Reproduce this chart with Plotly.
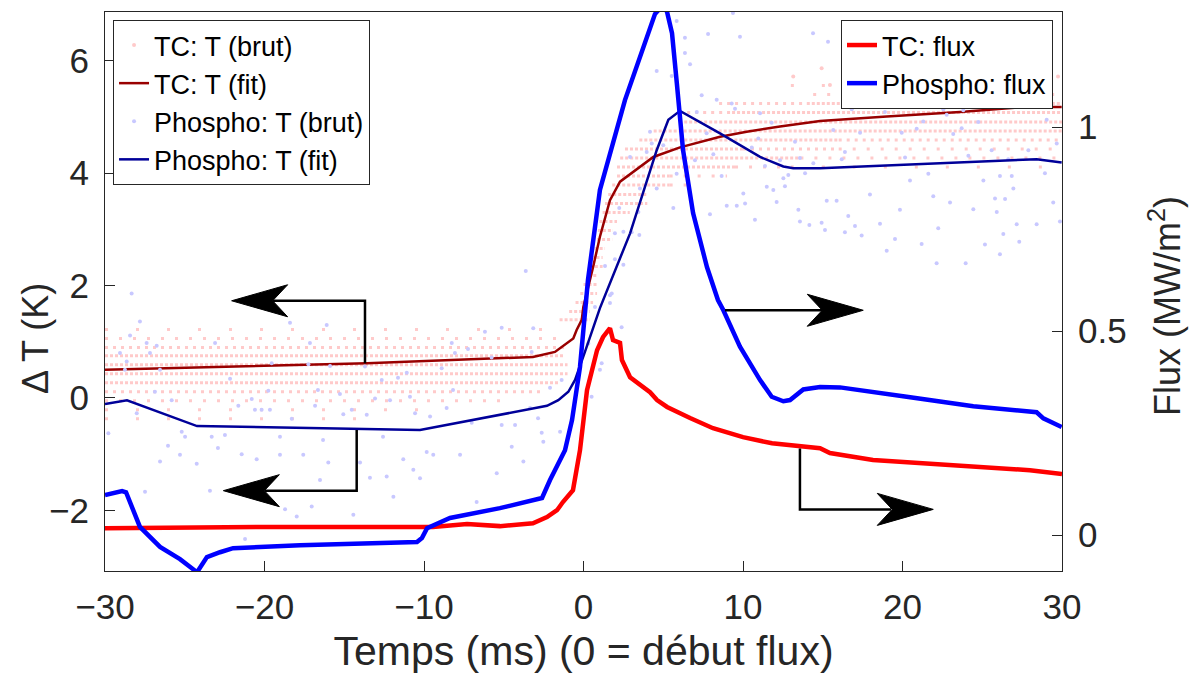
import plotly.graph_objects as go

# ---------------- data ----------------
# Thermocouple heat flux (MW/m2) vs time (ms)
TC_FLUX_T = [-30.0, -19.84, -9.44, -7.30, -5.24, -3.17, -2.29, -1.66, -1.29, -0.66,
             -0.22, 0.22, 0.85, 1.22, 1.66, 1.85, 2.29, 2.41, 2.92, 3.54, 4.17, 4.61,
             5.24, 6.68, 8.12, 10.0, 11.82, 14.83, 15.45, 18.15, 27.55, 27.99, 30.0]
TC_FLUX = [0.017, 0.020, 0.020, 0.027, 0.022, 0.029, 0.044, 0.061, 0.081, 0.110,
           0.208, 0.355, 0.453, 0.485, 0.507, 0.478, 0.471, 0.429, 0.387, 0.368, 0.350, 0.331,
           0.314, 0.287, 0.262, 0.240, 0.225, 0.213, 0.201, 0.184, 0.162, 0.159, 0.150]

# Phosphor heat flux (MW/m2)
PH_FLUX_T = [-30.0, -28.93, -28.68, -28.56, -27.81, -26.55, -25.30, -24.23, -23.61, -22.79,
             -21.97, -17.77, -10.44, -10.13, -9.81, -8.37, -5.24, -2.60, -2.10, -1.16,
             -0.72, -0.22, 0.28, 1.03, 2.60, 4.48, 5.0, 5.24, 5.55, 5.85, 6.24, 6.87,
             7.74, 8.43, 8.77, 9.81, 11.07, 11.80, 12.53, 12.95, 13.78, 14.83, 16.08,
             20.26, 24.44, 28.41, 28.83, 29.98]
PH_FLUX = [0.098, 0.108, 0.105, 0.093, 0.020, -0.029, -0.059, -0.091, -0.054, -0.042,
           -0.032, -0.025, -0.017, -0.007, 0.017, 0.042, 0.066, 0.091, 0.135, 0.208,
           0.282, 0.412, 0.625, 0.846, 1.066, 1.277, 1.300, 1.282, 1.230, 1.108, 0.944, 0.789,
           0.657, 0.576, 0.551, 0.462, 0.380, 0.339, 0.328, 0.331, 0.357, 0.363, 0.362,
           0.339, 0.316, 0.301, 0.286, 0.265]

# Thermocouple temperature fit (K)
TC_FIT_T = [-30.0, -13.57, -3.17, -1.79, -0.64, -0.43, -0.11, -0.01, 0.61, 1.03, 1.66,
            2.29, 4.38, 6.05, 8.56, 10.23, 12.32, 14.83, 19.01, 23.61, 27.79, 29.98]
TC_FIT = [0.50, 0.62, 0.73, 0.82, 1.06, 1.21, 1.39, 1.62, 2.34, 2.87, 3.52,
          3.85, 4.29, 4.46, 4.65, 4.74, 4.83, 4.93, 5.01, 5.09, 5.18, 5.18]

# Phosphor temperature fit (K)
PH_FIT_T = [-30.0, -28.62, -24.23, -10.25, -2.29, -1.58, -0.95, -0.53, 0.09, 1.03, 2.92,
            4.59, 5.32, 6.05, 8.56, 11.07, 12.53, 13.15, 14.83, 21.10, 26.53, 28.41, 29.98]
PH_FIT = [-0.11, -0.04, -0.50, -0.57, -0.14, -0.04, 0.11, 0.32, 0.82, 1.60, 2.93,
          4.41, 4.95, 5.11, 4.71, 4.29, 4.12, 4.09, 4.09, 4.16, 4.22, 4.25, 4.19]

# Phosphor raw temperature samples (K)
PH_RAW_T = [-27.81, -28.43, -27.39, -26.76, -29.06, -27.18, -28.64, -28.75, -26.55, -18.40,
            -16.10, -17.15, -23.10, -19.55, -17.25, -15.89, -13.70, -22.16, -19.76, -26.87,
            -25.82, -20.80, -16.65, -15.27, -13.07, -12.13, -10.88, -12.65, -11.63, -11.08,
            -8.18, -8.89, -8.26, -8.06, -7.24, -5.13, -6.18, -5.76, -3.25, -2.10,
            -1.37, -2.85, -4.29, -4.50, -2.62, -7.01, -8.58, -9.62, -10.56, -13.59,
            -14.53, -15.06, -18.29, -16.83, -20.60, -20.18, -19.66, -21.64, -28.01, -29.79,
            -25.19, -24.98, -23.31, -22.48, -19.03, -16.33, -12.57, -26.05, -22.92, -28.33,
            -25.30, -26.55, -24.25, -21.43, -20.49, -19.03, -17.57, -16.00, -14.01, -16.52,
            -17.98, -18.71, -17.04, -14.43, -13.39, -12.34, -11.92, -10.67, -10.25, -11.30,
            -9.83, -9.42, -7.74, -6.70, -5.44, -3.77, -2.52, -1.47, -5.13, -3.35,
            -21.22, -23.42, -27.49, -3.62, -3.15, 0.72, 1.77, 1.66, 2.39, 1.14,
            1.03, 0.51, 0.30, 6.68, 4.59, 5.53, 7.41, 8.35, 9.29, 9.50,
            7.10, 7.72, 11.07, 11.80, 10.96, 13.26, 5.00, 4.28, 4.17, 2.92,
            6.99, 8.14, 3.96, 5.84, 8.66, 4.59, 3.54, 2.24, 3.44, 2.50,
            3.02, 3.50, 1.97, 1.97, 2.50, 1.35, 1.66, 5.63, 7.93, 8.98,
            9.61, 10.13, 10.02, 10.55, 10.75, 11.38, 12.32, 12.53, 11.49, 11.90,
            12.63, 12.84, 13.57, 13.89, 14.41, 13.47, 13.57, 14.16, 12.11, 18.38,
            16.82, 18.90, 21.93, 22.56, 22.77, 23.81, 28.62, 29.04, 21.30, 24.75,
            15.66, 17.34, 19.95, 20.89, 23.18, 23.71, 16.39, 16.19, 20.16, 24.13,
            25.59, 26.63, 27.89, 29.67, 21.62, 20.47, 17.96, 25.07, 26.11, 26.85,
            26.95, 28.93, 15.25, 15.87, 19.84, 21.93, 22.98, 24.44, 25.80, 26.43,
            25.91, 29.45, 16.60, 14.93, 17.02, 18.59, 15.14, 16.39, 17.44, 19.53,
            22.24, 27.16, 28.41, 29.87, 26.32, 21.20, 19.01, 25.17, 27.32, 26.11,
            22.14, 23.96, 14.39, 15.33, 5.84, 7.81, 9.81, 9.37, 6.36, 6.36]
PH_RAW = [1.36, 1.11, 0.98, 0.93, 0.80, 0.80, 0.65, 0.50, 0.50, 1.34,
          1.30, 0.98, 0.98, 0.62, 0.60, 0.57, 0.56, 0.34, 0.13, 0.11,
          -0.04, -0.02, 0.14, 0.07, -0.01, -0.04, 0.02, 0.32, 0.36, 0.45,
          0.14, 0.53, 0.98, 0.80, 0.87, 1.25, 1.18, 0.72, 0.82, 0.18,
          0.32, -0.36, -0.48, -0.87, -0.62, -0.44, -0.18, -0.33, -0.27, -0.30,
          -0.21, -0.29, -0.37, -0.14, -0.21, -0.21, -0.21, -0.14, -0.27, -0.63,
          -0.60, -0.69, -0.69, -0.66, -0.69, -0.75, -0.69, -0.85, -0.89, 1.86,
          -1.01, -1.13, -1.17, -1.00, -1.09, -1.01, -1.01, -1.15, -1.15, -1.46,
          -2.11, -1.98, -1.93, -2.08, -1.42, -1.40, -1.76, -1.28, -1.43, -1.09,
          -0.96, -1.01, -1.01, -1.85, -1.34, -1.13, -0.78, -0.60, -0.48, -0.18,
          -2.51, -1.65, -1.67, 2.26, 1.24, 1.62, 1.86, 1.69, 1.26, 0.62,
          0.50, 0.02, 0.97, 5.94, 5.82, 5.73, 5.39, 5.31, 5.24, 5.15,
          5.09, 4.71, 5.07, 4.90, 4.62, 4.56, 4.50, 4.53, 4.74, 4.29,
          4.23, 4.34, 4.38, 3.99, 3.95, 3.73, 3.73, 3.38, 3.31, 2.96,
          2.95, 2.90, 2.93, 2.47, 2.37, 2.35, 1.83, 3.38, 3.27, 3.42,
          3.42, 3.46, 3.64, 4.46, 3.17, 4.13, 4.23, 3.91, 3.76, 3.70,
          3.77, 3.97, 4.27, 4.00, 4.18, 3.35, 3.14, 3.08, 3.49, 5.27,
          5.14, 5.09, 5.24, 5.14, 5.04, 5.12, 5.23, 4.95, 4.92, 4.91,
          4.77, 4.72, 4.72, 4.79, 4.70, 4.80, 4.38, 4.25, 4.28, 4.31,
          4.41, 4.25, 4.41, 4.53, 3.99, 3.87, 3.62, 3.87, 3.95, 3.95,
          3.73, 4.00, 3.51, 3.51, 3.35, 3.59, 3.48, 3.36, 3.55, 3.54,
          3.31, 3.48, 3.24, 3.12, 3.06, 3.10, 2.99, 2.95, 2.89, 2.83,
          3.02, 3.09, 3.09, 3.14, 2.92, 2.74, 2.62, 2.73, 2.78, 2.56,
          2.40, 2.40, 6.49, 6.34, 6.71, 6.48, 6.43, 6.85, 6.41, 6.14]

# Thermocouple raw samples: quantised levels (K), drawn as rows of samples
# level, start time, end time, sample density class
TC_RAW_LEVEL = [1.22, 1.06, 0.90, 0.75, 0.59, 0.43, 0.27, 0.11, -0.05, -0.21, -0.37,
                1.39, 1.54, 1.70, 1.86, 2.02, 2.18, 2.34, 2.50, 2.66, 2.82, 2.98, 3.14,
                3.30, 3.46, 3.62, 3.79, 3.79, 3.95, 3.95, 4.11, 4.11, 4.11, 4.27, 4.27,
                4.43, 4.43, 4.43, 4.59, 4.59, 4.75, 4.91, 5.08, 5.08, 5.24, 5.24, 5.40, 5.56]
TC_RAW_T0 = [-30, -30, -30, -30, -30, -30, -30, -30, -30, -30, -30,
             -1.5, -0.9, -0.5, -0.2, 0.0, 0.3, 0.4, 0.5, 0.7, 0.85, 0.9, 1.0,
             1.2, 1.35, 1.55, 1.8, 5.4, 2.1, 5.4, 2.1, 9.5, 13.0, 2.3, 13.6,
             2.6, 10.0, 16.0, 3.5, 16.0, 4.4, 6.0, 6.5, 9.0, 8.5, 14.0, 14.4, 13.0]
TC_RAW_T1 = [-1.0, -1.5, -1.2, -1.2, -1.0, -1.0, -1.5, -2.6, -4.9, -10.0, -14.0,
             0.4, 0.4, 0.6, 0.85, 0.85, 0.9, 1.2, 1.2, 1.35, 1.8, 1.85, 2.1,
             2.9, 4.0, 4.0, 5.4, 6.9, 5.4, 9.0, 9.5, 13.0, 30, 13.6, 30,
             10.0, 16.0, 30, 16.0, 30, 30, 30, 9.0, 30, 14.0, 30, 30, 30]
TC_RAW_DENSITY = ["x", "s", "m", "d", "d", "d", "d", "m", "s", "x", "x",
                  "d", "d", "d", "d", "d", "d", "d", "d", "d", "d", "d", "d",
                  "d", "d", "d", "d", "s", "d", "s", "d", "s", "x", "d", "s",
                  "d", "m", "s", "d", "m", "d", "d", "m", "d", "m", "d", "s", "x"]
# isolated thermocouple samples
TC_RAW_EXTRA_T = [13.15, 15.45, 29.75, 14.93]
TC_RAW_EXTRA = [5.72, 5.57, 5.72, 5.87]

X_TICKS = [-30, -20, -10, 0, 10, 20, 30]
X_TICK_LABELS = ["\u221230", "\u221220", "\u221210", "0", "10", "20", "30"]
Y_TICKS = [-2, 0, 2, 4, 6]
Y_TICK_LABELS = ["\u22122", "0", "2", "4", "6"]
Y2_TICKS = [0, 0.5, 1]
Y2_TICK_LABELS = ["0", "0.5", "1"]

# annotation arrows: elbow path points (time, value), tip, direction, axis
ARROW_PATHS = [
    ([-13.70, -13.70, -19.5], [0.62, 1.73, 1.73], (-22.06, 1.73), "left", "y"),
    ([-14.22, -14.22, -20.0], [-0.57, -1.65, -1.65], (-22.58, -1.65), "left", "y"),
    ([8.87, 15.0], [0.551, 0.551], (17.54, 0.551), "right", "y2"),
    ([13.57, 13.57, 19.3], [0.2125, 0.063, 0.063], (21.93, 0.063), "right", "y2"),
]

# ---------------- styling ----------------
FONT = "Liberation Sans, Arial, Helvetica, sans-serif"
AX = "#262626"
PINK = "#ffcaca"
LAVENDER = "#c8c8ff"
DASHES = {"d": "3px,2px", "m": "3px,5px", "s": "3px,11px", "x": "3px,28px"}
TICK_SIZE = 35
LABEL_SIZE = 41

fig = go.Figure()

# TC raw: legend entry
fig.add_trace(go.Scatter(x=[None], y=[None], mode="markers", name="TC: T (brut)",
                         marker=dict(color=PINK, size=4), legend="legend"))
for dens, dash in DASHES.items():
    xs, ys = [], []
    for lv, a, b, d in zip(TC_RAW_LEVEL, TC_RAW_T0, TC_RAW_T1, TC_RAW_DENSITY):
        if d == dens:
            xs += [a, b, None]
            ys += [lv, lv, None]
    fig.add_trace(go.Scatter(x=xs, y=ys, mode="lines", showlegend=False, hoverinfo="skip",
                             line=dict(color=PINK, width=3, dash=dash)))
fig.add_trace(go.Scatter(x=TC_RAW_EXTRA_T, y=TC_RAW_EXTRA, mode="markers", showlegend=False,
                         marker=dict(color=PINK, size=4)))

fig.add_trace(go.Scatter(x=TC_FIT_T, y=TC_FIT, mode="lines", name="TC: T (fit)",
                         line=dict(color="#990000", width=2.5), legend="legend"))
fig.add_trace(go.Scatter(x=PH_RAW_T, y=PH_RAW, mode="markers", name="Phospho: T (brut)",
                         marker=dict(color=LAVENDER, size=4), legend="legend"))
fig.add_trace(go.Scatter(x=PH_FIT_T, y=PH_FIT, mode="lines", name="Phospho: T (fit)",
                         line=dict(color="#000099", width=2.5), legend="legend"))

fig.add_trace(go.Scatter(x=TC_FLUX_T, y=TC_FLUX, mode="lines", name="TC: flux", yaxis="y2",
                         line=dict(color="#ff0000", width=4.5), legend="legend2"))
fig.add_trace(go.Scatter(x=PH_FLUX_T, y=PH_FLUX, mode="lines", name="Phospho: flux", yaxis="y2",
                         line=dict(color="#0000ff", width=4.5), legend="legend2"))

shapes = []
for xs, ys, tip, direction, ax in ARROW_PATHS:
    path = "M" + " L".join(f"{x},{y}" for x, y in zip(xs, ys))
    shapes.append(dict(type="path", path=path, xref="x", yref=ax, layer="above",
                       line=dict(color="black", width=2.5)))
    s = 1 if direction == "left" else -1
    head = f"M0,0 L{56*s},16 L{41*s},0 L{56*s},-16 Z"
    shapes.append(dict(type="path", path=head, xref="x", yref=ax, layer="above",
                       xsizemode="pixel", ysizemode="pixel", xanchor=tip[0], yanchor=tip[1],
                       fillcolor="black", line=dict(color="black", width=1)))

# y-axis titles as rotated annotations (placed where the reference has them)
annotations = [
    dict(text="Δ T (K)", xref="paper", yref="paper", x=-0.0731, y=0.415,
         xanchor="center", yanchor="middle", textangle=-90, showarrow=False,
         font=dict(size=36, family=FONT, color=AX)),
    dict(text="Flux (MW/m<sup>2</sup>)", xref="paper", yref="paper", x=1.1076, y=0.474,
         xanchor="center", yanchor="middle", textangle=-90, showarrow=False,
         font=dict(size=36, family=FONT, color=AX)),
]

legend_common = dict(bgcolor="white", bordercolor=AX, borderwidth=1,
                     font=dict(family=FONT, size=27, color="black"),
                     tracegroupgap=0, itemwidth=30)

# the page body adds an 8 px offset, so the figure is 8 px smaller than the window
fig.update_layout(
    width=1190, height=676,
    margin=dict(l=97, r=136, t=4, b=113, autoexpand=False),
    paper_bgcolor="white", plot_bgcolor="white",
    font=dict(family=FONT, color=AX),
    shapes=shapes,
    annotations=annotations,
    showlegend=True,
    legend=dict(x=0.0084, y=0.9857, xanchor="left", yanchor="top", **legend_common),
    legend2=dict(x=0.9906, y=0.9857, xanchor="right", yanchor="top", **legend_common),
    xaxis=dict(range=[-30, 30], tickvals=X_TICKS, ticktext=X_TICK_LABELS, automargin=False,
               ticks="inside", ticklen=10, tickcolor=AX, tickwidth=1,
               showline=True, linecolor=AX, linewidth=1, mirror=True,
               showgrid=False, zeroline=False,
               tickfont=dict(size=TICK_SIZE, family=FONT, color=AX), ticklabelstandoff=5,
               title=dict(text="Temps (ms) (0 = début flux)", standoff=11,
                          font=dict(size=LABEL_SIZE, family=FONT, color=AX))),
    yaxis=dict(range=[-3.08, 6.87], tickvals=Y_TICKS, ticktext=Y_TICK_LABELS, automargin=False,
               ticks="inside", ticklen=10, tickcolor=AX, tickwidth=1,
               showline=True, linecolor=AX, linewidth=1,
               showgrid=False, zeroline=False,
               tickfont=dict(size=TICK_SIZE, family=FONT, color=AX), ticklabelstandoff=8),
    yaxis2=dict(range=[-0.088, 1.282], overlaying="y", side="right", automargin=False,
                tickvals=Y2_TICKS, ticktext=Y2_TICK_LABELS,
                ticks="inside", ticklen=10, tickcolor=AX, tickwidth=1,
                showline=True, linecolor=AX, linewidth=1,
                showgrid=False, zeroline=False,
                tickfont=dict(size=TICK_SIZE, family=FONT, color=AX), ticklabelstandoff=8),
)

fig.write_html("out.html")
